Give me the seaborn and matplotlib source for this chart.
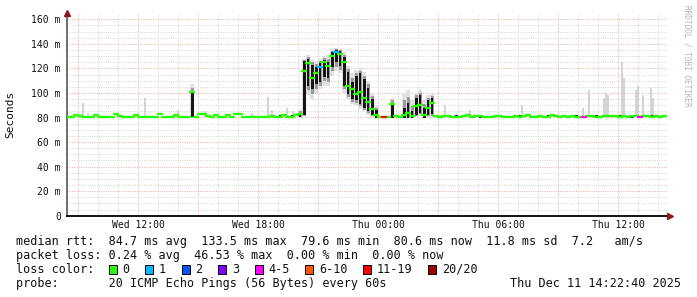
import numpy as np
import pandas as pd
import matplotlib
matplotlib.use("Agg")
import matplotlib.pyplot as plt
from matplotlib.patches import Rectangle
import seaborn as sns

# ---------------- data ----------------
start_hour = 8.4          # Wed 08:24 (hours since Wed 00:00)
bin_hours = 0.2           # 12-minute bins

median_ms = [
    80.4, 80.6, 82.4, 81.6, 80.3, 80.2, 80.4, 82.3, 80.5, 80.2,
    80.3, 80.4, 82.5, 81.5, 80.2, 80.3, 80.6, 82.2, 80.4, 80.2,
    80.3, 80.5, 80.3, 82.6, 80.8, 80.2, 80.3, 82.0, 80.3, 80.2,
    80.6, 100.8, 80.4, 82.5, 82.5, 81.0, 80.5, 82.0, 80.4, 80.3,
    82.0, 80.4, 82.6, 82.6, 80.2, 80.0, 80.0, 80.1, 80.0, 80.0,
    80.3, 81.5, 80.4, 80.8, 81.9, 80.5, 80.6, 82.3, 82.8, 118.0,
    124.0, 112.0, 116.0, 121.0, 125.0, 122.0, 130.0, 133.0, 132.0, 125.0,
    106.0, 103.0, 99.0, 101.0, 96.0, 93.0, 87.0, 82.0, 80.0, 80.5,
    80.0, 91.0, 81.0, 80.0, 82.0, 84.0, 81.0, 89.0, 90.0, 82.0,
    88.0, 92.0, 81.0, 80.6, 80.9, 81.4, 80.7, 80.5, 80.8, 81.2,
    82.0, 80.6, 80.9, 81.3, 80.7, 80.4, 80.6, 80.9, 81.6, 80.8,
    80.5, 80.7, 81.0, 80.6, 80.9, 82.2, 80.7, 80.5, 81.0, 80.8,
    80.6, 82.4, 81.1, 80.7, 80.9, 80.6, 81.3, 80.8, 80.7, 80.6,
    81.0, 81.4, 80.8, 80.7, 81.6, 81.1, 80.9, 81.5, 80.8, 81.2,
    80.7, 81.0, 81.3, 80.6, 80.9, 81.0, 80.8, 81.2, 80.7, 80.9,
]

# smoke (ping spread) for the bins where it is visible
smoke_bins    = [31, 50, 53, 55, 56, 58, 59, 60, 61, 62, 63, 64, 65, 66, 67, 68, 69,
                 70, 71, 72, 73, 74, 75, 76, 77, 81, 84, 85, 86, 87, 88, 89, 90, 91,
                 97, 103, 113, 120, 127, 132, 138, 141, 146]
smoke_dark_lo = [80.5, 79.6, 79.6, 79.6, 79.6, 80.5, 82, 106, 103, 107, 109, 113, 112, 121, 125, 122, 106,
                 99, 95, 94, 91, 88, 85, 82, 80, 80, 80, 80, 80, 82, 84, 80, 82, 83,
                 79.8, 79.8, 79.8, 79.8, 79.8, 79.8, 79.8, 79.8, 79.8]
smoke_dark_hi = [101.5, 81.6, 81.8, 81.6, 81.8, 84, 126, 128, 123, 121, 124, 127, 125, 133, 135, 134, 129,
                 117, 109, 114, 116, 111, 104, 95, 86, 92, 88, 92, 85, 96, 98, 88, 94, 96,
                 81.8, 81.8, 81.8, 81.8, 81.8, 81.8, 81.8, 81.8, 81.8]
smoke_lo      = [80, 79.6, 79.6, 79.6, 79.6, 80, 81, 98, 95, 100, 103, 106, 106, 114, 118, 116, 100,
                 95, 91, 90, 87, 85, 82, 80, 79, 80, 80, 80, 80, 80, 81, 80, 80, 80,
                 79.8, 79.8, 79.8, 79.8, 79.8, 79.8, 79.8, 79.8, 79.8]
smoke_hi      = [107, 81.6, 81.8, 81.6, 81.8, 86, 128, 131, 127, 126, 128, 130, 131, 136, 137, 136, 133,
                 122, 116, 119, 120, 117, 110, 100, 90, 96, 100, 102, 94, 100, 102, 94, 98, 99,
                 81.8, 81.8, 81.8, 81.8, 81.8, 81.8, 81.8, 81.8, 81.8]

# isolated single-ping outliers (thin smoke spikes)
spike_hours  = [9.24, 9.49, 12.33, 13.98, 15.33, 17.69, 18.49, 18.69, 19.44, 19.74,
                27.34, 28.59, 31.19, 34.24, 34.54, 35.29, 35.39, 35.49, 36.19, 36.29,
                36.89, 36.99, 37.24, 37.64, 37.74]
spike_top_ms = [92, 84, 96, 86, 85, 84, 97, 86, 88, 85,
                90, 86, 90, 88, 102, 96, 100, 98, 125, 112,
                102, 106, 98, 104, 96]

# packet loss (lost pings out of 20) for the bins with loss
loss_bins  = [63, 67, 79, 129, 143]
loss_count = [1, 1, 12, 4, 4]

y_ticks = [0, 20, 40, 60, 80, 100, 120, 140, 160]
y_tick_labels = ["0", "20 m", "40 m", "60 m", "80 m", "100 m", "120 m", "140 m", "160 m"]
x_tick_hours = [12, 18, 24, 30, 36]
x_tick_labels = ["Wed 12:00", "Wed 18:00", "Thu 00:00", "Thu 06:00", "Thu 12:00"]

legend_labels = ["0", "1", "2", "3", "4-5", "6-10", "11-19", "20/20"]
legend_colors = ["#26ff00", "#00b8ff", "#0059ff", "#7e00ff", "#ff00ff", "#ff5500", "#ff0000", "#a00000"]

stats_lines = [
    "median rtt:  84.7 ms avg  133.5 ms max  79.6 ms min  80.6 ms now  11.8 ms sd  7.2   am/s",
    "packet loss: 0.24 % avg  46.53 % max  0.00 % min  0.00 % now",
]
loss_title = "loss color:"
probe_line = "probe:       20 ICMP Echo Pings (56 Bytes) every 60s"
date_text = "Thu Dec 11 14:22:40 2025"
watermark = "RRDTOOL / TOBI OETIKER"

# ---------------- style ----------------
sns.set_style("white")
plt.rcParams["font.family"] = ["DejaVu Sans Mono", "DejaVu Sans"]
plt.rcParams["lines.scale_dashes"] = False

W, H = 697, 297
fig = plt.figure(figsize=(W / 100, H / 100), dpi=100)
fig.patch.set_facecolor("white")
x0_px, x1_px, ytop_px, ybot_px = 66.7, 668.0, 13.0, 215.7
ax = fig.add_axes([x0_px / W, 1 - ybot_px / H, (x1_px - x0_px) / W, (ybot_px - ytop_px) / H])
ax.set_facecolor("white")
xlim = (8.42, 8.42 + (x1_px - x0_px) / 20.0)
ylim = (0, (ybot_px - ytop_px) / 1.2275)
ax.set_xlim(*xlim)
ax.set_ylim(*ylim)

dots = (0, (0.72, 0.9))
minor_c, major_c = "#d4d4d4", "#f2a8a8"
for h in np.arange(9, 39, 1):
    ax.axvline(h, color=major_c if h % 3 == 0 else minor_c, lw=0.65, ls=dots, zorder=0)
for v in np.arange(5, 165, 5):
    ax.axhline(v, color=major_c if v % 20 == 0 else minor_c, lw=0.65, ls=dots, zorder=0)

n = len(median_ms)
t = start_hour + bin_hours * np.arange(n)
med = np.array(median_ms)

loss = np.zeros(n, dtype=int)
loss[np.array(loss_bins)] = loss_count

def loss_class(k):
    if k == 0: return "0"
    if k <= 3: return str(k)
    if k <= 5: return "4-5"
    if k <= 10: return "6-10"
    if k <= 19: return "11-19"
    return "20/20"

palette = dict(zip(legend_labels, legend_colors))

# thin outlier spikes
ax.vlines(spike_hours, 80.5, spike_top_ms, color="#c8c8c8", lw=1.1, zorder=1)

# smoke
sb = np.array(smoke_bins)
st = t[sb]
lo, hi = np.array(smoke_lo), np.array(smoke_hi)
dlo, dhi = np.array(smoke_dark_lo), np.array(smoke_dark_hi)
ax.bar(st, hi - lo, bottom=lo, width=bin_hours, align="edge", color="#e0e0e0", lw=0, zorder=2.5)
mlo, mhi = (lo + dlo) / 2, (hi + dhi) / 2
ax.bar(st + bin_hours * 0.1, mhi - mlo, bottom=mlo, width=bin_hours * 0.8, align="edge",
       color="#9a9a9a", lw=0, zorder=2.6)
ax.bar(st + bin_hours * 0.2, dhi - dlo, bottom=dlo, width=bin_hours * 0.6, align="edge",
       color="#151515", lw=0, zorder=2.7)

# median segments coloured by loss, on top
rows = []
for i in range(n):
    c = loss_class(loss[i])
    rows.append((t[i], med[i], i, c))
    rows.append((t[i] + bin_hours, med[i], i, c))
seg = pd.DataFrame(rows, columns=["t", "v", "seg", "loss"])
sns.lineplot(data=seg, x="t", y="v", units="seg", hue="loss", palette=palette,
             estimator=None, lw=1.7, legend=False, ax=ax, zorder=4)

# axes
ax.set_xlabel("")
ax.set_ylabel("")
ax.set_yticks(y_ticks)
ax.set_yticklabels(y_tick_labels)
ax.set_xticks(x_tick_hours)
ax.set_xticklabels(x_tick_labels)
ax.tick_params(axis="both", length=0, labelsize=7, colors="#111111")
ax.tick_params(axis="y", pad=4.2)
ax.tick_params(axis="x", pad=3.0)
for s in ["top", "right"]:
    ax.spines[s].set_visible(False)
ax.spines["left"].set_color("#555555")
ax.spines["left"].set_linewidth(1.2)
ax.spines["bottom"].set_color("#000000")
ax.spines["bottom"].set_linewidth(1.3)
ax.plot([0], [1.0], marker="^", color="#8b1a1a", ms=4.5, transform=ax.transAxes, clip_on=False, zorder=6)
ax.plot([1.004], [0], marker=">", color="#8b1a1a", ms=4.5, transform=ax.transAxes, clip_on=False, zorder=6)

# texts
def fx(px): return px / W
def fy(py): return 1 - py / H

fig.text(fx(10), fy(114), "Seconds", rotation=90, ha="center", va="center", fontsize=8, color="#111111")
fig.text(fx(687), fy(5), watermark, rotation=270, ha="center", va="top", fontsize=5.6, color="#b4b4b4")

fs = 8.5
cw = 7.11
lx = 16
for k, line in enumerate(stats_lines):
    fig.text(fx(lx), fy(241.5 + 14 * k), line, ha="left", va="center", fontsize=fs, color="#111111")
fig.text(fx(lx), fy(269.5), loss_title, ha="left", va="center", fontsize=fs, color="#111111")
cursor = lx + 13 * cw
for lab, col in zip(legend_labels, legend_colors):
    fig.add_artist(Rectangle((fx(cursor + 0.5), fy(273.5)), 8 / W, 8.5 / H, transform=fig.transFigure,
                             facecolor=col, edgecolor="#000000", lw=0.7))
    fig.text(fx(cursor + 2 * cw), fy(269.5), lab, ha="left", va="center", fontsize=fs, color="#111111")
    cursor += (2 + len(lab) + 2) * cw + 0.9
fig.text(fx(lx), fy(283.5), probe_line, ha="left", va="center", fontsize=fs, color="#111111")
fig.text(fx(681), fy(283.5), date_text, ha="right", va="center", fontsize=fs, color="#111111")

fig.savefig("out.png", dpi=100, facecolor="white")
